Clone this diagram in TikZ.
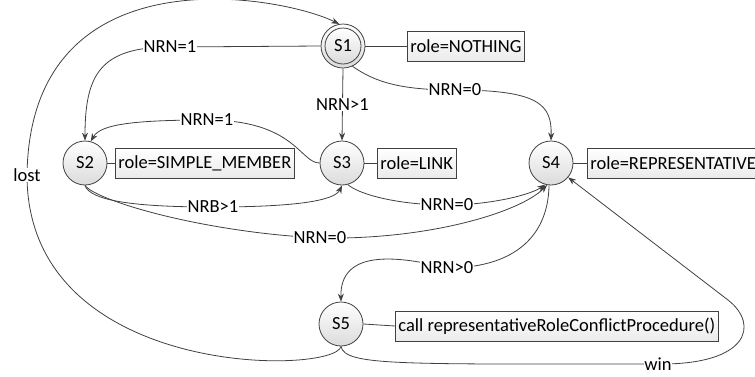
\documentclass[tikz,border=0pt]{standalone}
\usepackage{fontspec}
\setmainfont{Carlito}
\usetikzlibrary{arrows.meta,shadings}
\definecolor{ln}{HTML}{404040}
\newcommand{\dfont}{\fontsize{18.5}{22}\selectfont}
\tikzset{
 state/.style={circle, draw=ln, line width=0.8pt, minimum size=44pt, inner sep=0pt,
   top color=white, bottom color=black!14, font=\dfont},
 rolebox/.style={rectangle, draw=ln, line width=0.8pt, minimum height=30pt, inner xsep=3pt,
   inner ysep=0pt, top color=white, bottom color=black!8, anchor=west, font=\dfont},
 lbl/.style={fill=white, inner sep=0.5pt, font=\dfont},
 edge/.style={draw=ln, line width=0.8pt, -{Stealth[length=8pt,width=6pt]}},
 plain/.style={draw=ln, line width=0.8pt},
}
\begin{document}
\begin{tikzpicture}[x=1pt,y=-1pt]
\useasboundingbox (0,0) rectangle (755,376);
\clip (0,0) rectangle (755,376);
% states
\node[state] (S1) at (343,46) {};
\node[state, minimum size=36pt] (S1i) at (S1) {S1};
\node[state] (S2) at (85,163) {S2};
\node[state] (S3) at (342,163) {S3};
\node[state] (S4) at (551,163) {S4};
\node[state] (S5) at (341,324) {S5};
% role boxes
\node[rolebox] (b1) at (407,46) {role=NOTHING};
\node[rolebox] (b2) at (115,163) {role=SIMPLE\_MEMBER};
\node[rolebox] (b3) at (377,163) {role=LINK};
\node[rolebox] (b4) at (587,163) {role=REPRESENTATIVE};
\node[rolebox] (b5) at (395,326) {call representativeRoleConflictProcedure()};
\draw[plain] (S1.east) -- (b1.west);
\draw[plain] (S2.east) -- (b2.west);
\draw[plain] (S3.east) -- (b3.west);
\draw[plain] (S4.east) -- (b4.west);
\draw[plain] (S5.east) -- (b5.west);
% transitions
\draw[edge] (S5.south) .. controls (335,375) and (27,380) .. (27,175) node[lbl] (lost) {lost}
  .. controls (30,-50) and (280,-5) .. (S1.100);
\draw[edge] (S1.west) -- (170,47) node[lbl] (l1) {NRN=1}
  .. controls (100,47) and (85,75) .. (S2.north);
\draw[edge] (S1.south) -- node[lbl] (l2) {NRN>1} (S3.north);
\draw[edge] (S1.-65) .. controls (375,82) and (400,90) .. (455,90) node[lbl] (l3) {NRN=0}
  .. controls (540,90) and (552,105) .. (S4.north);
\draw[edge] (S3.west) .. controls (300,163) and (295,120) .. (207,120) node[lbl] (l4) {NRN=1}
  .. controls (130,120) and (100,125) .. (S2.75);
\draw[edge] (S2.south) .. controls (90,200) and (130,207) .. (213,207) node[lbl] (l5) {NRB>1}
  .. controls (300,207) and (335,200) .. (S3.south);
\draw[edge] (S2.south) .. controls (95,200) and (200,232) .. (320,238) node[lbl] (l6) {NRN=0}
  .. controls (430,240) and (520,212) .. (S4.-100);
\draw[edge] (S3.-75) .. controls (360,195) and (400,205) .. (447,205) node[lbl] (l7) {NRN=0}
  .. controls (490,205) and (530,195) .. (S4.-105);
\draw[edge] (S4.-95) .. controls (548,240) and (510,268) .. (447,268) node[lbl] (l8) {NRN>0}
  .. controls (395,255) and (340,250) .. (S5.north);
\draw[edge] (S5.south) .. controls (345,366) and (400,364) .. (658,364) node[lbl] (l9) {win}
  .. controls (748,365) and (760,325) .. (728,300) -- (S4.-40);
\end{tikzpicture}
\end{document}
